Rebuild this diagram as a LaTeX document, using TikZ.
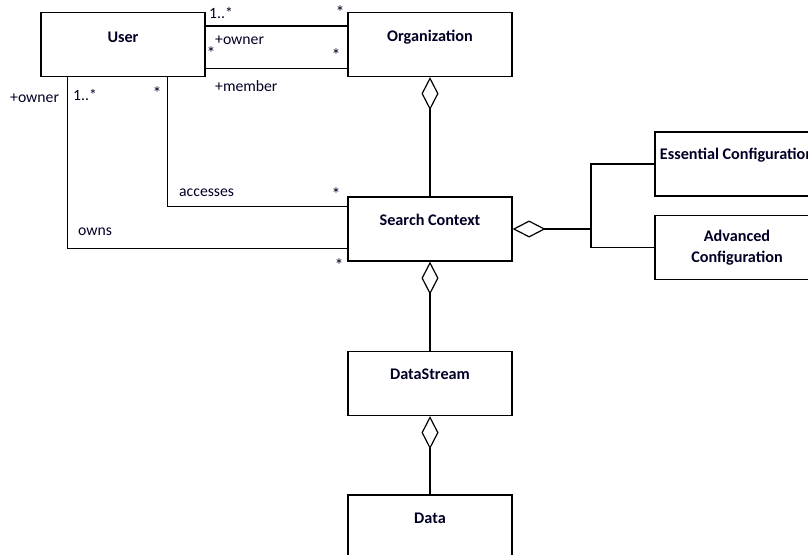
\documentclass[tikz,border=0pt]{standalone}
\usepackage{fontspec}
\setmainfont{Carlito}
\usetikzlibrary{arrows.meta}
\begin{document}
\begin{tikzpicture}[x=1pt,y=-1pt,
  cls/.style={draw, line width=1.2pt, rectangle, minimum width=164pt, minimum height=64pt, inner sep=0pt},
  clsname/.style={font=\fontsize{16.2}{20}\selectfont\bfseries, inner sep=0pt, align=center, text=black!85!blue},
  lbl/.style={font=\fontsize{15.7}{18}\selectfont, inner sep=0pt, anchor=base west, text=black!85!blue},
  star/.style={font=\fontsize{18}{18}\selectfont, inner sep=0pt, anchor=base, text=black!85!blue},
  conn/.style={line width=1.2pt},
  agg/.style={line width=1.2pt, {Diamond[open, length=33pt, width=17pt, line width=1.2pt]}-}
]
\useasboundingbox (0,0) rectangle (808,554);
\clip (0,0) rectangle (808,554);
\fill[white] (0,0) rectangle (808,554);

% classes
\node[cls] (user) at (123,44.5) {};
\node[cls] (org) at (430,44.5) {};
\node[cls] (sc) at (430,229) {};
\node[cls] (ds) at (430,383.5) {};
\node[cls] (data) at (430,527) {};
\node[cls] (ess) at (737,164) {};
\node[cls] (adv) at (737,247.5) {};

\node[clsname] (usert) at ([yshift=-25pt]user.north) {User};
\node[clsname] (orgt) at ([yshift=-25pt]org.north) {Organization};
\node[clsname] (sct) at ([yshift=-23pt]sc.north) {Search Context};
\node[clsname] (dst) at ([yshift=-23pt]ds.north) {DataStream};
\node[clsname] (datat) at ([yshift=-24pt]data.north) {Data};
\node[clsname] (esst) at ([yshift=-24pt]ess.north) {Essential Configuration};
\node[clsname, text width=120pt] (advt) at ([yshift=-0.5pt]adv.center) {Advanced\\[1pt]Configuration};

% User -- Organization associations
\draw[conn] ([yshift=-14pt]user.north east) -- ([yshift=-14pt]org.north west);
\draw[conn] ([yshift=9pt]user.south east) -- ([yshift=9pt]org.south west);

% User -- Search Context
\draw[conn] ([xshift=-38pt]user.south east) |- ([yshift=-10pt]sc.north west);
\draw[conn] ([xshift=27pt]user.south west) |- ([yshift=13pt]sc.south west);

% aggregations
\draw[agg] (org.south) -- (sc.north);
\draw[agg] (sc.south) -- (ds.north);
\draw[agg] (ds.south) -- (data.north);
\coordinate (j) at (591,229);
\draw[agg] (sc.east) -- (j);
\draw[conn] (ess.west) -| (j) |- (adv.west);

% labels
\node[lbl] (l1) at (209,18) {1..*};
\node[star] (s1) at (340,18) {*};
\node[lbl] (l2) at (215,44) {+owner};
\node[star] (s2) at (211,59) {*};
\node[star] (s3) at (336,61) {*};
\node[lbl] (l3) at (215,91) {+member};
\node[lbl] (l4) at (10,102) {+owner};
\node[lbl] (l5) at (73,100) {1..*};
\node[star] (s4) at (157,99) {*};
\node[lbl] (l6) at (179,196) {accesses};
\node[star] (s5) at (336,200) {*};
\node[lbl] (l7) at (78,235) {owns};
\node[star] (s6) at (339,271) {*};
\end{tikzpicture}
\end{document}
